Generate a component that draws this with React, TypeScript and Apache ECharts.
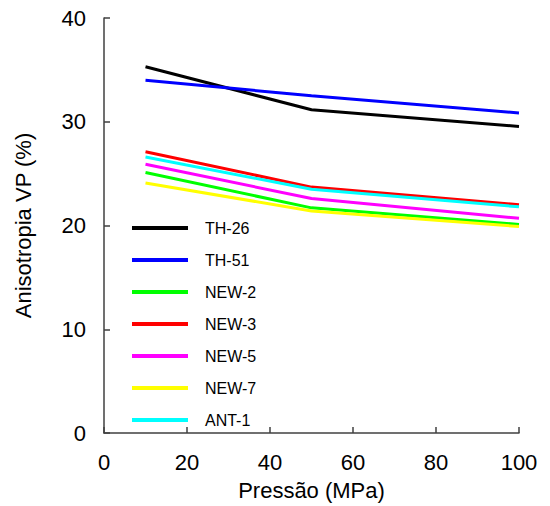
import React, { useEffect, useRef } from "react";
import * as echarts from "echarts";

const pressures = [10, 50, 100];
const seriesNames = ["TH-26", "TH-51", "NEW-2", "NEW-3", "NEW-5", "NEW-7", "ANT-1"];
const th26 = [35.3, 31.15, 29.55];
const th51 = [34.0, 32.5, 30.85];
const new2 = [25.1, 21.7, 20.1];
const new3 = [27.1, 23.7, 22.0];
const new5 = [25.9, 22.6, 20.7];
const new7 = [24.1, 21.4, 19.9];
const ant1 = [26.6, 23.5, 21.8];
const colors = ["#000000", "#0000ff", "#00ff00", "#ff0000", "#ff00ff", "#ffff00", "#00ffff"];
const allValues = [th26, th51, new2, new3, new5, new7, ant1];

const FONT = "'Liberation Sans', Arial, sans-serif";

export default function App() {
  const ref = useRef<HTMLDivElement>(null);
  useEffect(() => {
    if (!ref.current) return;
    const chart = echarts.init(ref.current, undefined, { renderer: "svg" });
    chart.setOption({
      animation: false,
      backgroundColor: "#ffffff",
      grid: { left: 104, right: 31, top: 18, bottom: 72 },
      legend: {
        orient: "vertical",
        left: 127,
        top: 215,
        icon: "rect",
        itemWidth: 56,
        itemHeight: 4,
        itemGap: 16,
        data: seriesNames,
        textStyle: {
          fontFamily: FONT,
          fontSize: 16,
          color: "#000",
          padding: [0, 0, 0, 12],
        },
      },
      xAxis: {
        type: "value",
        min: 0,
        max: 100,
        interval: 20,
        name: "Pressão (MPa)",
        nameLocation: "middle",
        nameGap: 46,
        nameTextStyle: { fontFamily: FONT, fontSize: 22, color: "#000" },
        axisLine: { show: true, lineStyle: { color: "#404040", width: 1.5 } },
        axisTick: { show: true, inside: true, length: 6, lineStyle: { color: "#404040", width: 1.5 } },
        axisLabel: { fontFamily: FONT, fontSize: 22, color: "#000", margin: 18 },
        splitLine: { show: false },
      },
      yAxis: {
        type: "value",
        min: 0,
        max: 40,
        interval: 10,
        name: "Anisotropia VP (%)",
        nameLocation: "middle",
        nameGap: 70,
        nameTextStyle: { fontFamily: FONT, fontSize: 22, color: "#000" },
        axisLine: { show: true, lineStyle: { color: "#404040", width: 1.5 } },
        axisTick: { show: true, inside: true, length: 6, lineStyle: { color: "#404040", width: 1.5 } },
        axisLabel: { fontFamily: FONT, fontSize: 22, color: "#000", margin: 18 },
        splitLine: { show: false },
      },
      series: seriesNames.map((name, i) => ({
        name,
        type: "line",
        data: pressures.map((p, j) => [p, allValues[i][j]]),
        symbol: "none",
        color: colors[i],
        lineStyle: { color: colors[i], width: 3 },
      })),
    });
    return () => chart.dispose();
  }, []);
  return <div ref={ref} style={{ width: 550, height: 506, position: "absolute", left: 0, top: 0 }} />;
}
